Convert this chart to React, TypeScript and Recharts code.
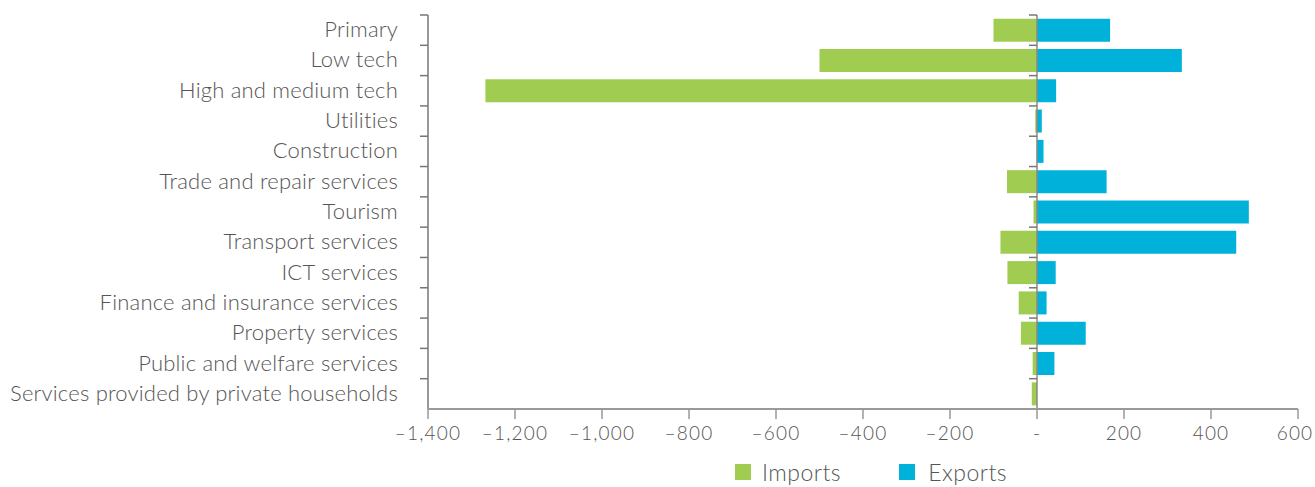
import React from 'react';
import { BarChart, Bar, XAxis, YAxis, ReferenceLine, Legend } from 'recharts';

const categories = [
  'Primary',
  'Low tech',
  'High and medium tech',
  'Utilities',
  'Construction',
  'Trade and repair services',
  'Tourism',
  'Transport services',
  'ICT services',
  'Finance and insurance services',
  'Property services',
  'Public and welfare services',
  'Services provided by private households',
];

const imports = [-100, -500, -1268, -4, -1, -69, -8, -84, -68, -42, -37, -10, -12];
const exportsVals = [168, 333, 44, 11, 15, 160, 487, 458, 43, 22, 112, 40, 0];

const xTicks = [-1400, -1200, -1000, -800, -600, -400, -200, 0, 200, 400, 600];
const xDomain = [-1400, 600];

const data = categories.map((name, i) => ({
  name,
  imports: imports[i],
  exports: exportsVals[i],
}));

const GREEN = '#a0cc52';
const BLUE = '#00b2d9';
const TEXT = '#555';
const FONT = 'Lato, "Open Sans", sans-serif';
const PLOT_W = 870;

const fmt = (v: number) => {
  if (v === 0) return '-';
  const s = Math.abs(v).toLocaleString('en-US');
  return v < 0 ? '\u2013' + s : s;
};

// label at band centre, tick marks at the band's upper edge (on the axis and on the zero line)
const CatTick = (props: any) => {
  const { x, y, payload } = props;
  const half = payload && payload.offset ? payload.offset : 15.15;
  const axisX = x + 30;
  const zeroX = axisX + (PLOT_W * (0 - xDomain[0])) / (xDomain[1] - xDomain[0]);
  return (
    <g>
      <line x1={axisX - 8} x2={axisX} y1={y - half} y2={y - half} stroke="#777" strokeWidth={1.5} />
      <line x1={zeroX - 8} x2={zeroX} y1={y - half} y2={y - half} stroke="#777" strokeWidth={1.5} />
      <text
        x={x}
        y={y}
        dy={7}
        textAnchor="end"
        fill={TEXT}
        fontSize={22}
        fontFamily={FONT}
        fontWeight={300}
        letterSpacing={0.2}
      >
        {payload.value}
      </text>
    </g>
  );
};

// value tick; the last one is nudged left so it stays inside the frame
const ValTick = (props: any) => {
  const { x, y, payload } = props;
  const last = payload.value === xTicks[xTicks.length - 1];
  return (
    <text
      x={x}
      y={y}
      dx={last ? -3 : 0}
      dy={14}
      textAnchor="middle"
      fill={TEXT}
      fontSize={19}
      fontFamily={FONT}
      fontWeight={300}
      letterSpacing={1.2}
    >
      {fmt(payload.value)}
    </text>
  );
};

const LegendContent = () => (
  <div
    style={{
      display: 'flex',
      alignItems: 'center',
      fontFamily: FONT,
      fontSize: 23,
      fontWeight: 300,
      letterSpacing: 0.5,
      color: TEXT,
      paddingLeft: 735,
      height: 30,
      lineHeight: '30px',
    }}
  >
    <span style={{ display: 'inline-block', width: 16, height: 16, background: GREEN, marginRight: 11 }} />
    <span style={{ marginRight: 58 }}>Imports</span>
    <span style={{ display: 'inline-block', width: 16, height: 16, background: BLUE, marginRight: 13 }} />
    <span>Exports</span>
  </div>
);

export default function App() {
  return (
    <div style={{ background: '#fff' }}>
      <style>{'body { margin: 0; }'}</style>
      <BarChart
        width={1315}
        height={487}
        data={data}
        layout="vertical"
        stackOffset="sign"
        barCategoryGap="12%"
        margin={{ top: 15, right: 17, left: 0, bottom: 0 }}
        style={{ overflow: 'visible' }}
      >
        <XAxis
          type="number"
          domain={xDomain}
          ticks={xTicks}
          height={48}
          tickSize={10}
          tickMargin={7}
          tick={<ValTick />}
          axisLine={{ stroke: '#999', strokeWidth: 2 }}
          tickLine={{ stroke: '#999', strokeWidth: 1.5 }}
        />
        <XAxis
          xAxisId="top"
          orientation="top"
          type="number"
          domain={xDomain}
          height={0}
          tick={false}
          tickLine={false}
          axisLine={{ stroke: '#aaa', strokeWidth: 2 }}
        />
        <YAxis
          type="category"
          dataKey="name"
          width={428}
          interval={0}
          tickSize={8}
          tickMargin={22}
          tick={<CatTick />}
          tickLine={false}
          axisLine={{ stroke: '#999', strokeWidth: 2 }}
        />
        <YAxis
          yAxisId="right"
          orientation="right"
          type="category"
          dataKey="name"
          width={0}
          tick={false}
          tickLine={false}
          axisLine={{ stroke: '#999', strokeWidth: 2 }}
        />
        <ReferenceLine x={0} stroke="#888" strokeWidth={1.5} />
        <Bar dataKey="imports" name="Imports" stackId="a" fill={GREEN} isAnimationActive={false} />
        <Bar dataKey="exports" name="Exports" stackId="a" fill={BLUE} isAnimationActive={false} />
        <Legend
          verticalAlign="bottom"
          height={30}
          content={<LegendContent />}
          wrapperStyle={{ left: 0, width: 1315, bottom: 0 }}
        />
      </BarChart>
    </div>
  );
}
